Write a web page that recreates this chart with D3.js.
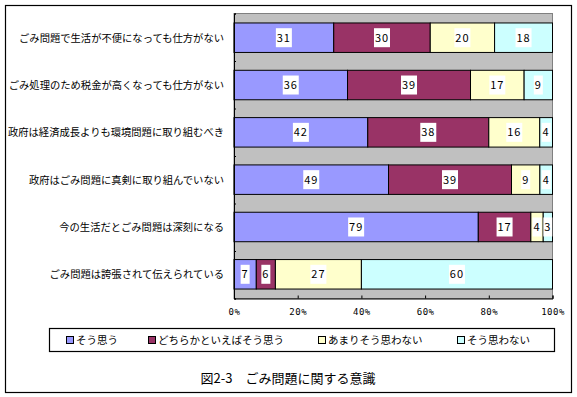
<!DOCTYPE html>
<html><head><meta charset="utf-8">
<script src="https://cdn.jsdelivr.net/npm/d3@7"></script>
<style>
body{margin:0;background:#fff;}
text{font-family:"Noto Sans CJK JP","Noto Sans",sans-serif;}
</style></head>
<body><svg id="c" width="577" height="397"></svg>
<script>
const categories = [
  "ごみ問題で生活が不便になっても仕方がない",
  "ごみ処理のため税金が高くなっても仕方がない",
  "政府は経済成長よりも環境問題に取り組むべき",
  "政府はごみ問題に真剣に取り組んでいない",
  "今の生活だとごみ問題は深刻になる",
  "ごみ問題は誇張されて伝えられている"
];
const seriesNames = ["そう思う","どちらかといえばそう思う","あまりそう思わない","そう思わない"];
const agree     = [31,36,42,49,79,7];
const ratherYes = [30,39,38,39,17,6];
const ratherNo  = [20,17,16,9,4,27];
const disagree  = [18,9,4,4,3,60];
const colors = ["#9999FF","#993366","#FFFFCC","#CCFFFF"];
const tickLabels = ["0%","20%","40%","60%","80%","100%"];
const title = "図2-3　ごみ問題に関する意識";

const svg = d3.select("#c");
svg.append("rect").attr("x",5.5).attr("y",5.5).attr("width",566).attr("height",387)
  .attr("fill","#fff").attr("stroke","#000").attr("stroke-width",1.2);

const L=234, R=552.5, T=13.5, B=298.5;
const x = d3.scaleLinear().domain([0,1]).range([L,R]);
const y = d3.scaleBand().domain(categories).range([T,B]).paddingInner(0.377).paddingOuter(0.2);

svg.append("rect").attr("x",L).attr("y",T).attr("width",R-L).attr("height",B-T)
  .attr("fill","#C0C0C0").attr("stroke","#808080").attr("stroke-width",1);

const rows = categories.map((c,i)=>{
  const vals=[agree[i],ratherYes[i],ratherNo[i],disagree[i]];
  const tot=d3.sum(vals);
  let acc=0;
  return vals.map((v,j)=>{const s=acc/tot; acc+=v; return {c,j,v,x0:s,x1:acc/tot};});
});
const segs = rows.flat();
const g = svg.append("g");
g.selectAll("rect.seg").data(segs).join("rect").attr("class","seg")
  .attr("x",d=>x(d.x0)).attr("y",d=>y(d.c)).attr("width",d=>x(d.x1)-x(d.x0))
  .attr("height",y.bandwidth()).attr("fill",d=>colors[d.j]).attr("stroke","#000").attr("stroke-width",1);

const lg = g.selectAll("g.lab").data(segs).join("g").attr("class","lab");
lg.each(function(d){
  const gg=d3.select(this);
  const cx=(x(d.x0)+x(d.x1))/2, cy=y(d.c)+y.bandwidth()/2;
  const t=gg.append("text").attr("x",cx).attr("y",cy+4).attr("text-anchor","middle")
    .attr("font-size",11).attr("letter-spacing",1).text(d.v);
  const w=String(d.v).length*7+2;
  gg.insert("rect","text").attr("x",cx-w/2).attr("y",cy-9.5).attr("width",w).attr("height",19).attr("fill","#fff");
});

// axes
const yl = d3.scaleLinear().domain([0,categories.length]).range([T,B]);
svg.append("g").attr("transform",`translate(${L},0)`)
  .call(d3.axisLeft(yl).ticks(6).tickSize(-2).tickFormat(""))
  .call(a=>a.select(".domain").attr("stroke","#000"));
const xa = svg.append("g").attr("transform",`translate(0,${B})`)
  .call(d3.axisBottom(x).tickValues([0,0.2,0.4,0.6,0.8,1]).tickSize(-3).tickPadding(10)
    .tickFormat((d,i)=>tickLabels[i]));
xa.select(".domain").attr("stroke","#000");
xa.selectAll("text").attr("font-size",9).attr("letter-spacing",0.5).attr("fill","#000")
  .style("font-family","'DejaVu Sans Mono',monospace");

// category labels
svg.append("g").selectAll("text").data(categories).join("text")
  .attr("x",224).attr("y",d=>y(d)+y.bandwidth()/2+4).attr("text-anchor","end")
  .attr("font-size",10.3).attr("fill","#000").text(d=>d);

// legend
svg.append("rect").attr("x",49.5).attr("y",328.5).attr("width",505).attr("height",23)
  .attr("fill","#fff").attr("stroke","#000").attr("stroke-width",1.2);
const legX=[66,148,318,457];
const le = svg.append("g").selectAll("g").data(seriesNames).join("g")
  .attr("transform",(d,i)=>`translate(${legX[i]},340)`);
le.append("rect").attr("x",0.5).attr("y",-3.5).attr("width",7).attr("height",7)
  .attr("fill",(d,i)=>colors[i]).attr("stroke","#000");
le.append("text").attr("x",10).attr("y",4).attr("font-size",10.5).text(d=>d);

svg.append("text").attr("x",288).attr("y",383).attr("text-anchor","middle")
  .attr("font-size",13).text(title);
</script></body></html>
